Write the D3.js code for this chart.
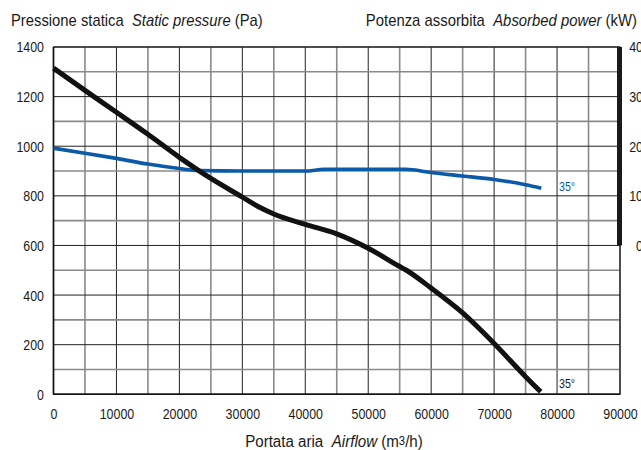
<!DOCTYPE html>
<html>
<head>
<meta charset="utf-8">
<script src="https://cdn.jsdelivr.net/npm/d3@7"></script>
<style>
  html, body { margin: 0; padding: 0; background: #fff; }
  svg { display: block; }
  text { font-family: "Liberation Sans", Arial, Helvetica, sans-serif; fill: #1a1a1a; }
</style>
</head>
<body>
<svg id="chart" width="641" height="450"></svg>
<script>
// ---- data ----
const airflow   = [0, 5000, 10000, 15000, 20000, 25000, 30000, 32500, 35000, 40000, 45000, 50000, 55000, 56000, 60000, 65000, 70000, 75000, 77400];
const pressure  = [1315, 1225, 1137, 1048, 955, 870, 795, 757, 727, 685, 647, 589, 515, 501, 428, 328, 205, 71, 10];

const powerFlow = [0, 5000, 10000, 15000, 20000, 23000, 30000, 40000, 43000, 56000, 60000, 65000, 70000, 75000, 77500];
const powerKW   = [19.6, 18.6, 17.55, 16.4, 15.5, 15.1, 15.0, 15.0, 15.35, 15.35, 14.7, 14.0, 13.3, 12.25, 11.55];

const xTicks = [0, 10000, 20000, 30000, 40000, 50000, 60000, 70000, 80000, 90000];
const yTicks = [0, 200, 400, 600, 800, 1000, 1200, 1400];
const powerTicks = [0, 10, 20, 30, 40];
const curveLabel = "35°";

// ---- layout ----
const svg = d3.select("#chart");
const L = 53.5, R = 620, T = 47, B = 394.3;

const x = d3.scaleLinear().domain([0, 90000]).range([L, R]);
const y = d3.scaleLinear().domain([0, 1400]).range([B, T]);
const yP = d3.scaleLinear().domain([0, 40]).range([y(600), y(1400)]);

// horizontally condense a text around its anchor x (reference font is a narrow Helvetica)
function squeeze(sel, k) {
  sel.each(function () {
    const t = d3.select(this);
    const ax = +t.attr("x") || 0;
    t.attr("transform", `translate(${ax},0) scale(${k},1) translate(${-ax},0)`);
  });
}

// grid lines
const g = svg.append("g");
d3.range(0, 90001, 5000).forEach(v => {
  const major = v % 10000 === 0;
  g.append("line")
    .attr("x1", x(v)).attr("x2", x(v)).attr("y1", T).attr("y2", B)
    .attr("stroke", major ? "#222" : "#8a8a8a")
    .attr("stroke-width", major ? 1 : 1.6);
});
d3.range(0, 1401, 100).forEach(v => {
  const major = v % 200 === 0;
  g.append("line")
    .attr("x1", L).attr("x2", R).attr("y1", y(v)).attr("y2", y(v))
    .attr("stroke", major ? "#222" : "#8a8a8a")
    .attr("stroke-width", major ? 1 : 1.6);
});
// border
g.append("rect").attr("x", L).attr("y", T).attr("width", R - L).attr("height", B - T)
  .attr("fill", "none").attr("stroke", "#222").attr("stroke-width", 1.2);
g.append("line").attr("x1", L).attr("x2", R).attr("y1", B).attr("y2", B).attr("stroke", "#111").attr("stroke-width", 1.6);
g.append("line").attr("x1", L).attr("x2", L).attr("y1", T).attr("y2", B).attr("stroke", "#111").attr("stroke-width", 1.6);

// right power axis bar
g.append("line").attr("x1", 619.5).attr("x2", 619.5).attr("y1", yP(40)).attr("y2", yP(0))
  .attr("stroke", "#1a1a1a").attr("stroke-width", 5);

// axes (labels only)
const axX = svg.append("g").attr("transform", `translate(0,${B})`)
  .call(d3.axisBottom(x).tickValues(xTicks).tickSize(0).tickPadding(14).tickFormat(d3.format("d")));
const axY = svg.append("g").attr("transform", `translate(${L},0)`)
  .call(d3.axisLeft(y).tickValues(yTicks).tickSize(0).tickPadding(9.5).tickFormat(d3.format("d")));
const axP = svg.append("g").attr("transform", `translate(643,0)`)
  .call(d3.axisLeft(yP).tickValues(powerTicks).tickSize(0).tickPadding(0).tickFormat(d3.format("d")));
[axX, axY, axP].forEach(a => {
  a.select(".domain").remove();
  a.selectAll("text").attr("font-size", 15.5).attr("fill", "#1a1a1a")
    .style("font-family", '"Liberation Sans", Arial, sans-serif');
  squeeze(a.selectAll("text"), 0.8);
});

// curves
const line = d3.line().curve(d3.curveMonotoneX);
svg.append("path")
  .attr("d", line(powerFlow.map((f, i) => [x(f), yP(powerKW[i])])))
  .attr("fill", "none").attr("stroke", "#0a5aa8").attr("stroke-width", 3.6).attr("stroke-linecap", "butt");
svg.append("path")
  .attr("d", line(airflow.map((f, i) => [x(f), y(pressure[i])])))
  .attr("fill", "none").attr("stroke", "#111").attr("stroke-width", 5).attr("stroke-linecap", "butt");

// curve labels
const c1 = svg.append("text").attr("x", 559).attr("y", 191.5).attr("font-size", 12.5).style("fill", "#0a5aa8").text(curveLabel);
const c2 = svg.append("text").attr("x", 559).attr("y", 388.5).attr("font-size", 12.5).text(curveLabel);
squeeze(c1, 0.85); squeeze(c2, 0.85);

// titles
const t1 = svg.append("text").attr("x", 11).attr("y", 26).attr("font-size", 16);
t1.append("tspan").text("Pressione statica");
t1.append("tspan").attr("dx", 9).attr("font-style", "italic").text("Static pressure");
t1.append("tspan").text(" (Pa)");
squeeze(t1, 0.925);

const t2 = svg.append("text").attr("x", 637).attr("y", 26).attr("font-size", 16).attr("text-anchor", "end");
t2.append("tspan").text("Potenza assorbita");
t2.append("tspan").attr("dx", 9).attr("font-style", "italic").text("Absorbed power");
t2.append("tspan").text(" (kW)");
squeeze(t2, 0.93);

const t3 = svg.append("text").attr("x", 334).attr("y", 447).attr("font-size", 16).attr("text-anchor", "middle");
t3.append("tspan").text("Portata aria");
t3.append("tspan").attr("dx", 9).attr("font-style", "italic").text("Airflow");
t3.append("tspan").text(" (m");
t3.append("tspan").attr("font-size", 12).attr("dy", -2).text("3");
t3.append("tspan").attr("dy", 2).text("/h)");
squeeze(t3, 0.945);
</script>
</body>
</html>
